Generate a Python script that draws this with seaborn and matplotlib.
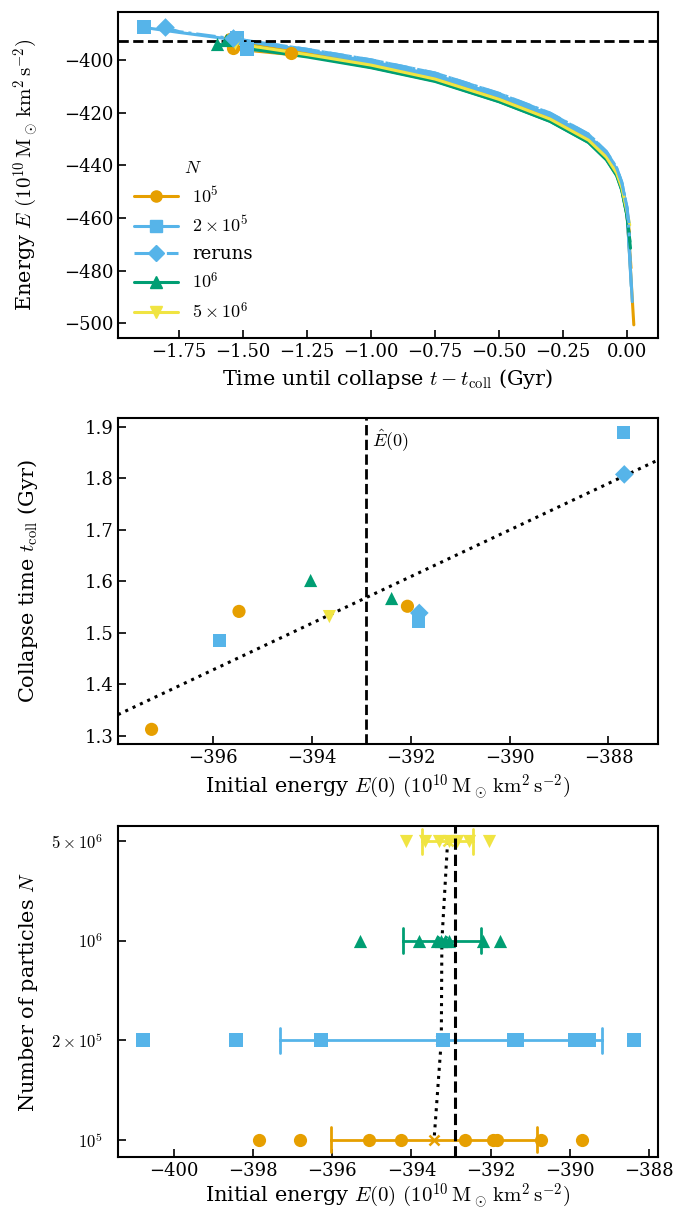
import numpy as np
import pandas as pd
import matplotlib
matplotlib.use("Agg")
import matplotlib.pyplot as plt
import seaborn as sns
from matplotlib.lines import Line2D

# ---------------- data ----------------
groups = ["1e5", "2e5", "reruns", "1e6", "5e6"]
group_labels = [r"$10^5$", r"$2\times10^5$", "reruns", r"$10^6$", r"$5\times10^6$"]
group_colors = ["#E69F00", "#56B4E9", "#56B4E9", "#009E73", "#F0E442"]
group_markers = ["o", "s", "D", "^", "v"]
group_lines = ["-", "-", "-.", "-", "-"]

# runs evolved until collapse
run_group = ["1e5", "1e5", "1e5", "2e5", "2e5", "2e5", "reruns", "reruns", "1e6", "1e6", "5e6"]
run_E0 = [-397.25, -395.48, -392.07, -395.88, -391.85, -387.69, -391.83, -387.68, -394.03, -392.39, -393.65]
run_tcoll = [1.312, 1.541, 1.551, 1.485, 1.522, 1.889, 1.538, 1.807, 1.601, 1.566, 1.531]

# energy along each run, sampled at common times t - t_coll (nan = before start)
t_grid = [-1.75, -1.5, -1.25, -1.0, -0.75, -0.5, -0.3, -0.15, -0.08, -0.04, -0.02, 0.0]
nan = np.nan
run_E_grid = [
    [nan, nan, -398.0, -402.0, -407.2, -415.0, -422.5, -430.5, -437.0, -443.0, -448.5, -457.5],
    [nan, -396.2, -398.6, -402.2, -407.3, -415.0, -422.5, -430.5, -437.0, -443.0, -449.0, -458.5],
    [nan, -393.6, -397.3, -401.4, -406.8, -414.5, -422.0, -430.0, -436.5, -442.5, -448.0, -457.0],
    [nan, nan, -398.2, -401.5, -406.2, -413.8, -421.3, -429.3, -435.8, -442.0, -447.5, -457.0],
    [nan, -392.6, -396.5, -400.6, -405.8, -413.4, -420.9, -428.9, -435.5, -441.5, -447.0, -456.5],
    [-389.6, -392.8, -396.6, -400.7, -405.9, -413.5, -421.0, -429.0, -435.5, -441.7, -447.3, -456.5],
    [nan, -392.5, -396.0, -400.0, -405.0, -412.8, -420.3, -428.3, -435.0, -441.0, -446.5, -456.0],
    [-389.3, -392.5, -396.0, -400.0, -405.0, -412.7, -420.2, -428.2, -434.8, -441.0, -446.5, -455.8],
    [nan, -395.5, -398.9, -403.0, -408.2, -415.9, -423.4, -431.4, -438.0, -444.0, -449.5, -459.0],
    [nan, -394.2, -398.5, -402.8, -408.0, -415.8, -423.3, -431.3, -437.8, -443.8, -449.5, -459.0],
    [nan, -394.3, -398.0, -402.0, -407.3, -415.0, -422.5, -430.5, -437.0, -443.0, -448.5, -457.5],
]
run_t_end = [0.010, 0.016, 0.027, 0.013, 0.021, 0.017, 0.008, 0.010, 0.014, 0.012, 0.011]
run_E_end = [-466.0, -479.0, -500.6, -476.0, -491.8, -486.0, -462.0, -467.0, -471.5, -469.0, -462.7]

E_hat = -392.9

# initial energies of all realisations per N
ic_E_1e5 = [-397.85, -396.83, -395.08, -394.26, -392.65, -391.95, -391.83, -390.73, -389.68]
ic_E_2e5 = [-400.79, -398.43, -396.29, -393.21, -391.34, -391.40, -389.87, -389.50, -388.38]
ic_E_1e6 = [-395.30, -393.80, -393.35, -393.25, -393.15, -393.05, -392.20, -391.75]
ic_E_5e6 = [-394.15, -393.65, -393.30, -393.05, -392.85, -392.55, -392.05]
N_order = ["5e6", "1e6", "2e5", "1e5"]
N_ticklabels = [r"$5\times10^6$", r"$10^6$", r"$2\times10^5$", r"$10^5$"]

# ---------------- style ----------------
sns.set_style("ticks")
plt.rcParams.update({
    "font.family": ["DejaVu Serif"],
    "mathtext.fontset": "cm",
    "font.size": 13,
    "axes.labelsize": 15,
    "xtick.labelsize": 13,
    "ytick.labelsize": 13,
    "legend.fontsize": 13,
    "text.color": "black",
    "axes.labelcolor": "black",
    "axes.edgecolor": "black",
    "axes.linewidth": 1.5,
    "xtick.color": "black",
    "ytick.color": "black",
    "xtick.direction": "in",
    "ytick.direction": "in",
    "xtick.major.size": 6,
    "ytick.major.size": 6,
    "xtick.major.width": 1.2,
    "ytick.major.width": 1.2,
    "axes.unicode_minus": True,
})

col = dict(zip(groups, group_colors))
mk = dict(zip(groups, group_markers))
lsd = dict(zip(groups, group_lines))

fig = plt.figure(figsize=(6.86, 12.12), dpi=100)
ax1 = fig.add_axes([0.172, 0.7209, 0.787, 0.2695])
ax2 = fig.add_axes([0.172, 0.3859, 0.787, 0.2690])
ax3 = fig.add_axes([0.172, 0.0454, 0.787, 0.2730])

energy_units = r"$(10^{10}\,\mathrm{M}_\odot\,\mathrm{km}^2\,\mathrm{s}^{-2})$"

# ---------------- top panel ----------------
draw_order = ["1e5", "2e5", "1e6", "5e6", "reruns"]
for g in draw_order:
    for i, rg in enumerate(run_group):
        if rg != g:
            continue
        t0 = -run_tcoll[i]
        ts = [t0]
        es = [run_E0[i]]
        for tj, ej in zip(t_grid, run_E_grid[i]):
            if not np.isnan(ej) and tj > t0:
                ts.append(tj)
                es.append(ej)
        ts.append(run_t_end[i])
        es.append(run_E_end[i])
        sns.lineplot(x=ts, y=es, sort=False, color=col[g], linestyle=lsd[g],
                     linewidth=2.2, ax=ax1, zorder=2)
for g in draw_order:
    idx = [i for i, rg in enumerate(run_group) if rg == g]
    sns.scatterplot(x=[-run_tcoll[i] for i in idx], y=[run_E0[i] for i in idx],
                    marker=mk[g], color=col[g], s=90, linewidth=0, ax=ax1,
                    zorder=4, legend=False)
ax1.axhline(E_hat, color="black", linestyle="--", linewidth=2, zorder=3)
ax1.set_xlim(-1.989, 0.121)
ax1.set_ylim(-505.7, -381.7)
ax1.set_xticks(np.arange(-1.75, 0.01, 0.25))
ax1.set_yticks(np.arange(-500, -399, 20))
ax1.set_xlabel(r"Time until collapse $t - t_\mathrm{coll}$ (Gyr)")
ax1.set_ylabel(r"Energy $E$ " + energy_units)
handles = [Line2D([], [], color=c, marker=m, linestyle=l, linewidth=2.2, markersize=8)
           for c, m, l in zip(group_colors, group_markers, group_lines)]
ax1.legend(handles, group_labels, title=r"$N$", loc="lower left", frameon=False,
           handlelength=2.4, title_fontsize=13)

# ---------------- middle panel ----------------
runs = pd.DataFrame({"group": run_group, "E0": run_E0, "tcoll": run_tcoll})
sns.scatterplot(data=runs, x="E0", y="tcoll", hue="group", style="group",
                palette=col, markers=mk, s=90, linewidth=0, ax=ax2, legend=False,
                zorder=4)
xl2 = (-397.93, -387.0)
coef = np.polyfit(run_E0, run_tcoll, 1)
sns.lineplot(x=list(xl2), y=list(np.polyval(coef, xl2)), color="black",
             linestyle=":", linewidth=2.2, ax=ax2, zorder=3)
ax2.axvline(E_hat, color="black", linestyle="--", linewidth=2, zorder=3)
ax2.text(E_hat + 0.12, 1.874, r"$\hat{E}(0)$", ha="left", va="center", fontsize=13)
ax2.set_xlim(*xl2)
ax2.set_ylim(1.283, 1.916)
ax2.set_xticks(np.arange(-396, -387, 2))
ax2.set_yticks(np.arange(1.3, 1.91, 0.1))
ax2.set_xlabel(r"Initial energy $E(0)$ " + energy_units)
ax2.set_ylabel(r"Collapse time $t_\mathrm{coll}$ (Gyr)")

# ---------------- bottom panel ----------------
ic = pd.DataFrame({
    "E": ic_E_1e5 + ic_E_2e5 + ic_E_1e6 + ic_E_5e6,
    "N": (["1e5"] * len(ic_E_1e5) + ["2e5"] * len(ic_E_2e5)
          + ["1e6"] * len(ic_E_1e6) + ["5e6"] * len(ic_E_5e6)),
})


def sd_pop(v):
    v = np.asarray(v)
    return v.mean() - v.std(), v.mean() + v.std()


ax3.axvline(E_hat, color="black", linestyle="--", linewidth=2.2, zorder=6)
sns.pointplot(data=ic, x="E", y="N", order=N_order, errorbar=None, color="black",
              markers="", linestyles=":", linewidth=2.2, ax=ax3, zorder=2)
for g in ["1e5", "2e5", "1e6", "5e6"]:
    sub = ic[ic["N"] == g]
    sns.stripplot(data=sub, x="E", y="N", order=N_order, jitter=False,
                  color=col[g], marker=mk[g], size=9.5, linewidth=0, ax=ax3,
                  zorder=4)
    sns.pointplot(data=sub, x="E", y="N", order=N_order, errorbar=sd_pop,
                  color=col[g], markers="x", linestyles="none", capsize=0.25,
                  markersize=7, markeredgewidth=1.8,
                  err_kws={"linewidth": 2.0}, ax=ax3, zorder=5)
ax3.set_xlim(-401.42, -387.77)
ax3.set_ylim(3.173, -0.153)
ax3.set_xticks(np.arange(-400, -387, 2))
ax3.set_yticks([0, 1, 2, 3])
ax3.set_yticklabels(N_ticklabels, fontsize=12)
ax3.tick_params(axis="y", pad=11)
ax3.set_xlabel(r"Initial energy $E(0)$ " + energy_units, labelpad=1)
ax3.set_ylabel(r"Number of particles $N$")

for ax in (ax1, ax2, ax3):
    ax.yaxis.set_label_coords(-0.145, 0.5)
    for s in ax.spines.values():
        s.set_visible(True)
        s.set_linewidth(1.5)
        s.set_color("black")
    ax.tick_params(which="both", top=False, right=False)

fig.savefig("out.png", dpi=100)
